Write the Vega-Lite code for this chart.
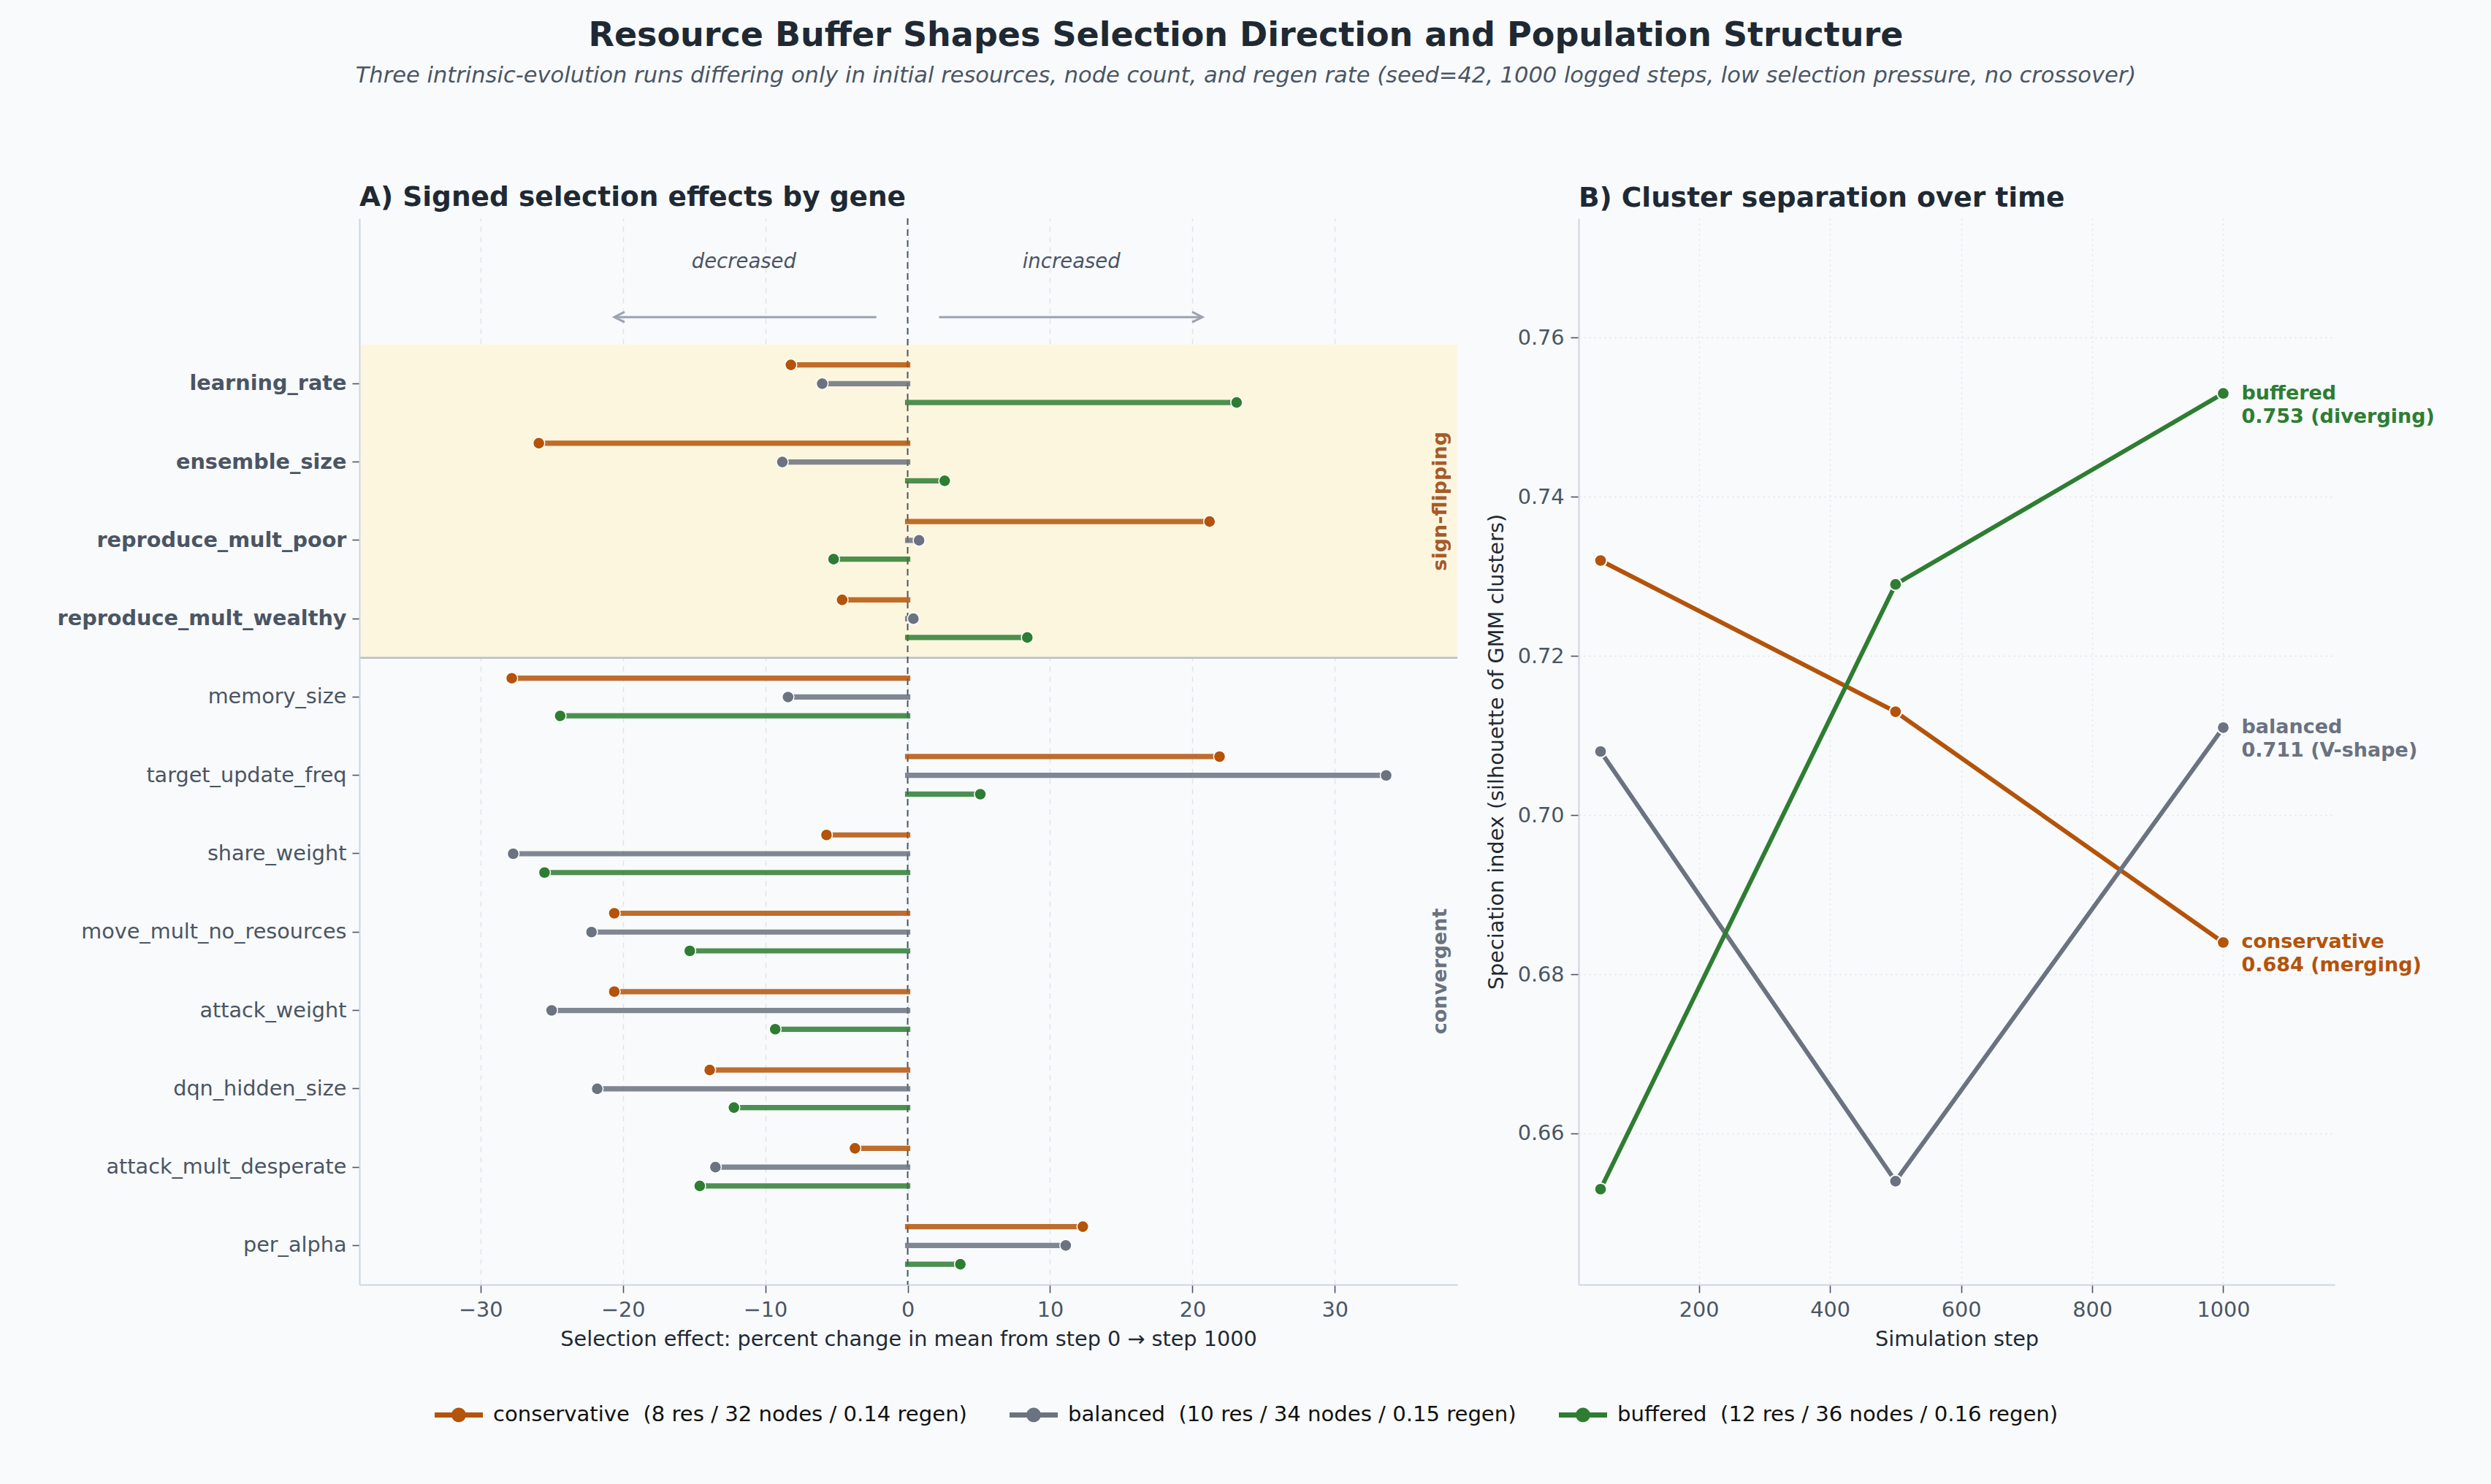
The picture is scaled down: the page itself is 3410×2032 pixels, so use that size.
{
  "$schema": "https://vega.github.io/schema/vega-lite/v6.json",
  "padding": {"left": 78, "top": 26, "right": 84, "bottom": 90},
  "background": "#f8fafc",
  "title": {
    "text": "Resource Buffer Shapes Selection Direction and Population Structure",
    "subtitle": "Three intrinsic-evolution runs differing only in initial resources, node count, and regen rate (seed=42, 1000 logged steps, low selection pressure, no crossover)",
    "anchor": "middle",
    "fontSize": 46,
    "fontWeight": "bold",
    "color": "#1f2933",
    "subtitleFontSize": 30.5,
    "subtitleFontStyle": "italic",
    "subtitleColor": "#4b5563",
    "subtitlePadding": 16,
    "offset": 131
  },
  "datasets": {
    "effects": [
      {"gene": "learning_rate", "run": "conservative", "effect": -8.2},
      {"gene": "learning_rate", "run": "balanced", "effect": -6.0},
      {"gene": "learning_rate", "run": "buffered", "effect": 23.1},
      {"gene": "ensemble_size", "run": "conservative", "effect": -25.9},
      {"gene": "ensemble_size", "run": "balanced", "effect": -8.8},
      {"gene": "ensemble_size", "run": "buffered", "effect": 2.6},
      {"gene": "reproduce_mult_poor", "run": "conservative", "effect": 21.2},
      {"gene": "reproduce_mult_poor", "run": "balanced", "effect": 0.8},
      {"gene": "reproduce_mult_poor", "run": "buffered", "effect": -5.2},
      {"gene": "reproduce_mult_wealthy", "run": "conservative", "effect": -4.6},
      {"gene": "reproduce_mult_wealthy", "run": "balanced", "effect": 0.4},
      {"gene": "reproduce_mult_wealthy", "run": "buffered", "effect": 8.4},
      {"gene": "memory_size", "run": "conservative", "effect": -27.8},
      {"gene": "memory_size", "run": "balanced", "effect": -8.4},
      {"gene": "memory_size", "run": "buffered", "effect": -24.4},
      {"gene": "target_update_freq", "run": "conservative", "effect": 21.9},
      {"gene": "target_update_freq", "run": "balanced", "effect": 33.6},
      {"gene": "target_update_freq", "run": "buffered", "effect": 5.1},
      {"gene": "share_weight", "run": "conservative", "effect": -5.7},
      {"gene": "share_weight", "run": "balanced", "effect": -27.7},
      {"gene": "share_weight", "run": "buffered", "effect": -25.5},
      {"gene": "move_mult_no_resources", "run": "conservative", "effect": -20.6},
      {"gene": "move_mult_no_resources", "run": "balanced", "effect": -22.2},
      {"gene": "move_mult_no_resources", "run": "buffered", "effect": -15.3},
      {"gene": "attack_weight", "run": "conservative", "effect": -20.6},
      {"gene": "attack_weight", "run": "balanced", "effect": -25.0},
      {"gene": "attack_weight", "run": "buffered", "effect": -9.3},
      {"gene": "dqn_hidden_size", "run": "conservative", "effect": -13.9},
      {"gene": "dqn_hidden_size", "run": "balanced", "effect": -21.8},
      {"gene": "dqn_hidden_size", "run": "buffered", "effect": -12.2},
      {"gene": "attack_mult_desperate", "run": "conservative", "effect": -3.7},
      {"gene": "attack_mult_desperate", "run": "balanced", "effect": -13.5},
      {"gene": "attack_mult_desperate", "run": "buffered", "effect": -14.6},
      {"gene": "per_alpha", "run": "conservative", "effect": 12.3},
      {"gene": "per_alpha", "run": "balanced", "effect": 11.1},
      {"gene": "per_alpha", "run": "buffered", "effect": 3.7}
    ],
    "speciation": [
      {"run": "conservative", "step": 50, "index": 0.732},
      {"run": "conservative", "step": 500, "index": 0.713},
      {"run": "conservative", "step": 1000, "index": 0.684, "trend": "merging"},
      {"run": "balanced", "step": 50, "index": 0.708},
      {"run": "balanced", "step": 500, "index": 0.654},
      {"run": "balanced", "step": 1000, "index": 0.711, "trend": "V-shape"},
      {"run": "buffered", "step": 50, "index": 0.653},
      {"run": "buffered", "step": 500, "index": 0.729},
      {"run": "buffered", "step": 1000, "index": 0.753, "trend": "diverging"}
    ]
  },
  "spacing": 37,
  "hconcat": [
    {
      "width": 1503,
      "height": 1460,
      "title": {"text": "A) Signed selection effects by gene", "anchor": "start", "frame": "group", "fontSize": 37.5, "fontWeight": "bold", "color": "#1f2933", "offset": 9},
      "layer": [
        {
          "data": {"values": [{"gene": "learning_rate"}, {"gene": "ensemble_size"}, {"gene": "reproduce_mult_poor"}, {"gene": "reproduce_mult_wealthy"}]},
          "mark": {"type": "rect", "color": "#fcf6de"},
          "encoding": {
            "y": {
              "field": "gene",
              "type": "nominal",
              "scale": {
                "type": "band",
                "domain": ["learning_rate", "ensemble_size", "reproduce_mult_poor", "reproduce_mult_wealthy", "memory_size", "target_update_freq", "share_weight", "move_mult_no_resources", "attack_weight", "dqn_hidden_size", "attack_mult_desperate", "per_alpha"],
                "paddingInner": 0,
                "paddingOuter": 0.805,
                "align": 1
              },
              "axis": {
                "title": null,
                "grid": false,
                "tickSize": 10,
                "labelPadding": 8,
                "labelLimit": 800,
                "labelFontSize": 28.7,
                "labelFontWeight": {
                  "condition": {"test": "indexof(['learning_rate','ensemble_size','reproduce_mult_poor','reproduce_mult_wealthy'], datum.value) >= 0", "value": "bold"},
                  "value": "normal"
                }
              }
            }
          }
        },
        {
          "data": {"values": [{"gene": "memory_size"}]},
          "mark": {"type": "rule", "color": "#b9bec6", "strokeWidth": 2.5},
          "encoding": {"y": {"field": "gene", "type": "nominal", "bandPosition": 0}}
        },
        {
          "data": {"values": [{"gene": "learning_rate"}]},
          "mark": {"type": "rule", "color": "#4b5563", "strokeWidth": 2, "strokeDash": [9, 6]},
          "encoding": {"x": {"datum": 0}}
        },
        {
          "data": {"name": "effects"},
          "mark": {"type": "rule", "strokeWidth": 7.2, "strokeCap": "square", "opacity": 0.85},
          "encoding": {
            "y": {"field": "gene", "type": "nominal"},
            "yOffset": {"field": "run", "type": "nominal", "scale": {"domain": ["conservative", "balanced", "buffered"], "paddingInner": 0, "paddingOuter": 0.583}},
            "x": {
              "field": "effect",
              "type": "quantitative",
              "scale": {"domain": [-38.5, 38.6], "nice": false, "zero": false},
              "axis": {
                "values": [-30, -20, -10, 0, 10, 20, 30],
                "title": "Selection effect: percent change in mean from step 0 → step 1000",
                "grid": true,
                "gridDash": [7, 7],
                "titlePadding": 12
              }
            },
            "x2": {"datum": 0},
            "color": {
              "field": "run",
              "type": "nominal",
              "scale": {"domain": ["conservative", "balanced", "buffered"], "range": ["#b45309", "#6b7280", "#2e7d32"]},
              "legend": {
                "title": null,
                "orient": "none",
                "legendX": 103,
                "legendY": 1605,
                "direction": "horizontal",
                "symbolType": "M-1,-0.106H-0.28V0.106H-1Z M0.28,-0.106H1V0.106H0.28Z M0.3,0A0.3,0.3,0,1,1,-0.3,0A0.3,0.3,0,1,1,0.3,0Z",
                "symbolSize": 4356,
                "symbolStrokeWidth": 0,
                "symbolOpacity": 1,
                "labelFontSize": 29.1,
                "labelColor": "#111111",
                "labelOffset": 14,
                "labelLimit": 1200,
                "columnPadding": 58,
                "labelExpr": "datum.label == 'conservative' ? 'conservative\u00a0 (8 res / 32 nodes / 0.14 regen)' : datum.label == 'balanced' ? 'balanced\u00a0 (10 res / 34 nodes / 0.15 regen)' : 'buffered\u00a0 (12 res / 36 nodes / 0.16 regen)'",
                "encode": {"symbols": {"update": {"fill": {"scale": "color", "field": "value"}, "stroke": {"value": "transparent"}, "opacity": {"value": 1}}}}
              }
            }
          }
        },
        {
          "data": {"name": "effects"},
          "mark": {"type": "point", "filled": true, "size": 260, "stroke": "#ffffff", "strokeWidth": 1.5, "opacity": 1},
          "encoding": {
            "y": {"field": "gene", "type": "nominal"},
            "yOffset": {"field": "run", "type": "nominal"},
            "x": {"field": "effect", "type": "quantitative"},
            "color": {"field": "run", "type": "nominal"}
          }
        },
        {
          "data": {"values": [{"gene": "learning_rate"}]},
          "mark": {"type": "rule", "color": "#9ca3af", "strokeWidth": 3},
          "encoding": {"y": {"field": "gene", "type": "nominal", "bandPosition": -0.35}, "x": {"datum": -2.2}, "x2": {"datum": -20.6}}
        },
        {
          "data": {"values": [{"gene": "learning_rate"}]},
          "mark": {"type": "rule", "color": "#9ca3af", "strokeWidth": 3},
          "encoding": {"y": {"field": "gene", "type": "nominal", "bandPosition": -0.35}, "x": {"datum": 2.2}, "x2": {"datum": 20.7}}
        },
        {
          "data": {"values": [{"gene": "learning_rate"}]},
          "mark": {"type": "point", "shape": "M2,-1L0,0L2,1", "size": 196, "filled": false, "stroke": "#9ca3af", "strokeWidth": 3, "opacity": 1},
          "encoding": {"y": {"field": "gene", "type": "nominal", "bandPosition": -0.35}, "x": {"datum": -20.6}}
        },
        {
          "data": {"values": [{"gene": "learning_rate"}]},
          "mark": {"type": "point", "shape": "M-2,-1L0,0L-2,1", "size": 196, "filled": false, "stroke": "#9ca3af", "strokeWidth": 3, "opacity": 1},
          "encoding": {"y": {"field": "gene", "type": "nominal", "bandPosition": -0.35}, "x": {"datum": 20.7}}
        },
        {
          "data": {"values": [{"gene": "learning_rate", "label": "decreased"}]},
          "mark": {"type": "text", "fontStyle": "italic", "fontSize": 27.5, "color": "#4b5563", "align": "center", "baseline": "middle"},
          "encoding": {"y": {"field": "gene", "type": "nominal", "bandPosition": -1.05}, "x": {"datum": -11.5}, "text": {"field": "label"}}
        },
        {
          "data": {"values": [{"gene": "learning_rate", "label": "increased"}]},
          "mark": {"type": "text", "fontStyle": "italic", "fontSize": 27.5, "color": "#4b5563", "align": "center", "baseline": "middle"},
          "encoding": {"y": {"field": "gene", "type": "nominal", "bandPosition": -1.05}, "x": {"datum": 11.5}, "text": {"field": "label"}}
        },
        {
          "data": {"values": [{"gene": "reproduce_mult_poor", "label": "sign-flipping"}]},
          "mark": {"type": "text", "angle": 270, "fontWeight": "bold", "fontSize": 27, "color": "#a65a2a", "align": "center", "baseline": "middle"},
          "encoding": {"y": {"field": "gene", "type": "nominal", "bandPosition": 0}, "x": {"datum": 37.4}, "text": {"field": "label"}}
        },
        {
          "data": {"values": [{"gene": "attack_weight", "label": "convergent"}]},
          "mark": {"type": "text", "angle": 270, "fontWeight": "bold", "fontSize": 27, "color": "#6b7280", "align": "center", "baseline": "middle"},
          "encoding": {"y": {"field": "gene", "type": "nominal", "bandPosition": 0}, "x": {"datum": 37.4}, "text": {"field": "label"}}
        }
      ]
    },
    {
      "width": 1035,
      "height": 1460,
      "title": {"text": "B) Cluster separation over time", "anchor": "start", "frame": "group", "fontSize": 37.5, "fontWeight": "bold", "color": "#1f2933", "offset": 9},
      "data": {"name": "speciation"},
      "encoding": {
        "x": {
          "field": "step",
          "type": "quantitative",
          "scale": {"domain": [16.5, 1170], "nice": false, "zero": false},
          "axis": {"values": [200, 400, 600, 800, 1000], "format": "d", "title": "Simulation step", "grid": true, "gridDash": [2, 5], "titlePadding": 12}
        },
        "y": {
          "field": "index",
          "type": "quantitative",
          "scale": {"domain": [0.641, 0.775], "nice": false, "zero": false},
          "axis": {"values": [0.66, 0.68, 0.70, 0.72, 0.74, 0.76], "format": ".2f", "title": "Speciation index (silhouette of GMM clusters)", "grid": true, "gridDash": [2, 5], "titlePadding": 14}
        },
        "color": {"field": "run", "type": "nominal"}
      },
      "layer": [
        {"mark": {"type": "line", "strokeWidth": 6}},
        {"mark": {"type": "point", "filled": true, "size": 280, "stroke": "#ffffff", "strokeWidth": 2, "opacity": 1}},
        {
          "transform": [
            {"filter": "datum.step == 1000"},
            {"calculate": "[datum.run, format(datum.index, '.3f') + ' (' + datum.trend + ')']", "as": "label"}
          ],
          "mark": {"type": "text", "align": "left", "baseline": "middle", "dx": 25, "fontWeight": "bold", "fontSize": 27, "lineHeight": 32},
          "encoding": {"text": {"field": "label"}}
        }
      ]
    }
  ],
  "config": {
    "font": "DejaVu Sans",
    "view": {"stroke": null},
    "axis": {
      "labelFontSize": 28.7,
      "titleFontSize": 28.7,
      "labelColor": "#4b5563",
      "titleColor": "#1f2933",
      "titleFontWeight": "normal",
      "domainColor": "#cbd5e1",
      "domainWidth": 2,
      "tickColor": "#4b5563",
      "tickWidth": 1.6,
      "tickSize": 11,
      "labelPadding": 9,
      "gridColor": "#dfe3e8",
      "gridWidth": 1.4
    }
  }
}
